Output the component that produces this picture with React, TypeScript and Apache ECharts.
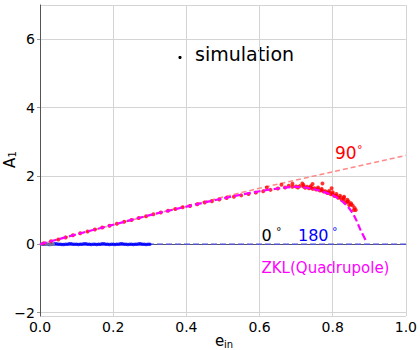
import React, { useEffect, useRef } from "react";
import * as echarts from "echarts";

const FONT = "DejaVu Sans";

// ZKL (quadrupole) prediction: [e_in, A1]
const zklCurve: number[][] = [
  [0, 0], [0.1, 0.29], [0.2, 0.57], [0.3, 0.85], [0.4, 1.1], [0.5, 1.34],
  [0.6, 1.55], [0.65, 1.63], [0.7, 1.68], [0.75, 1.61], [0.8, 1.43],
  [0.83, 1.22], [0.85, 0.98], [0.863, 0.74], [0.876, 0.42], [0.89, 0.12],
];

// 90° reference curve
const curve90: number[][] = [
  [0, 0], [0.2, 0.57], [0.4, 1.12], [0.6, 1.64], [0.8, 2.12], [1.0, 2.6],
];

// 0° / 180° reference line
const zeroLine: number[][] = [[0, 0], [1, 0]];

// simulation points, 90°
const sim90: number[][] = [
  [0.01, 0.03], [0.03, 0.09], [0.05, 0.14], [0.07, 0.2], [0.09, 0.26], [0.11, 0.32],
  [0.13, 0.37], [0.15, 0.43], [0.17, 0.49], [0.19, 0.54], [0.21, 0.6], [0.23, 0.66],
  [0.25, 0.71], [0.27, 0.77], [0.29, 0.82], [0.31, 0.88], [0.33, 0.93], [0.35, 0.98],
  [0.37, 1.03], [0.39, 1.08], [0.41, 1.12], [0.43, 1.17], [0.45, 1.22], [0.47, 1.26],
  [0.49, 1.31], [0.51, 1.35], [0.53, 1.39], [0.55, 1.43], [0.57, 1.47], [0.59, 1.51],
  [0.61, 1.55], [0.63, 1.59], [0.65, 1.63], [0.67, 1.66], [0.69, 1.68], [0.7, 1.69],
  [0.71, 1.7], [0.72, 1.69], [0.73, 1.68], [0.74, 1.66], [0.75, 1.64], [0.76, 1.61],
  [0.77, 1.58], [0.78, 1.55], [0.79, 1.51], [0.8, 1.47], [0.81, 1.42], [0.82, 1.37],
  [0.83, 1.31], [0.84, 1.24], [0.85, 1.16], [0.86, 1.06], [0.863, 1.0],
  [0.72, 1.73], [0.76, 1.66], [0.79, 1.56], [0.8, 1.52], [0.82, 1.42], [0.83, 1.36],
  [0.84, 1.3], [0.85, 1.2], [0.77, 1.62], [0.81, 1.47], [0.74, 1.7], [0.68, 1.71],
  [0.705, 1.66], [0.725, 1.65], [0.745, 1.62], [0.765, 1.57], [0.785, 1.5],
  [0.805, 1.41], [0.825, 1.3], [0.845, 1.15], [0.858, 1.0], [0.835, 1.22],
  [0.815, 1.36], [0.795, 1.46], [0.775, 1.54], [0.755, 1.6], [0.735, 1.64],
  [0.62, 1.66], [0.66, 1.74], [0.69, 1.77], [0.717, 1.78], [0.745, 1.76],
  [0.772, 1.78], [0.797, 1.64], [0.831, 1.39], [0.843, 1.25], [0.855, 1.13],
];

// simulation points, 180°
const sim180: number[][] = [
  [0.005, 0.0], [0.01, 0.0], [0.015, 0.01], [0.02, 0.0], [0.025, -0.01], [0.03, 0.0],
  [0.035, 0.0], [0.04, 0.01], [0.045, 0.01], [0.05, 0.0], [0.055, 0.0], [0.06, -0.01],
  [0.065, -0.01], [0.07, 0.0], [0.075, 0.0], [0.08, 0.01], [0.085, 0.01], [0.09, 0.0],
  [0.095, 0.0], [0.1, 0.0], [0.105, -0.01], [0.11, 0.0], [0.115, 0.0], [0.12, 0.01],
  [0.125, 0.01], [0.13, 0.0], [0.135, 0.0], [0.14, -0.01], [0.145, 0.0], [0.15, 0.0],
  [0.155, -0.01], [0.16, 0.0], [0.165, 0.0], [0.17, 0.01], [0.175, 0.01], [0.18, 0.0],
  [0.185, 0.0], [0.19, -0.01], [0.195, 0.0], [0.2, 0.0], [0.205, -0.01], [0.21, 0.0],
  [0.215, 0.0], [0.22, 0.01], [0.225, 0.01], [0.23, 0.0], [0.235, 0.0], [0.24, -0.01],
  [0.245, 0.0], [0.25, 0.0], [0.255, -0.01], [0.26, 0.0], [0.265, 0.0], [0.27, 0.01],
  [0.275, 0.01], [0.28, 0.0], [0.285, 0.0], [0.29, -0.01], [0.295, 0.0], [0.3, 0.0],
];

// simulation points, 0°
const sim0: number[][] = [
  [0.004, 0.0], [0.012, 0.01], [0.02, 0.0], [0.028, -0.01], [0.036, 0.0],
];

const xTicks = [0, 0.2, 0.4, 0.6, 0.8, 1.0];

const fmtY = (v: number) => (v < 0 ? "\u2212" + Math.abs(v) : String(v));

export default function App() {
  const ref = useRef<HTMLDivElement>(null);

  useEffect(() => {
    if (!ref.current) return;
    document.body.style.margin = "0";
    const chart = echarts.init(ref.current, null, { renderer: "svg" });
    const txt = (
      x: number,
      y: number,
      text: string,
      size: number,
      fill: string,
      extra: any = {}
    ) => ({
      type: "text",
      x,
      y,
      silent: true,
      style: {
        text,
        fill,
        font: `${size}px "${FONT}"`,
        align: "left",
        verticalAlign: "middle",
        ...extra,
      },
    });

    chart.setOption({
      animation: false,
      backgroundColor: "#ffffff",
      grid: { left: 40, right: 13, top: 5, bottom: 34, containLabel: false },
      xAxis: [
        {
          type: "value",
          min: 0,
          max: 1,
          interval: 0.2,
          axisLine: { show: true, lineStyle: { color: "#e2e2e2", width: 1 } },
          axisTick: { show: false },
          splitLine: { show: true, lineStyle: { color: "#d4d4d4", width: 1 } },
          axisLabel: {
            margin: 4,
            color: "#000",
            fontFamily: FONT,
            fontSize: 14,
            formatter: (v: number) => (xTicks.includes(Math.round(v * 10) / 10) ? v.toFixed(1) : ""),
          },
        },
        {
          type: "value",
          position: "top",
          min: 0,
          max: 1,
          axisLine: { show: true, lineStyle: { color: "#555", width: 1 } },
          axisTick: { show: false },
          axisLabel: { show: false },
          splitLine: { show: false },
        },
      ],
      yAxis: [
        {
          type: "value",
          min: -2.1,
          max: 7,
          splitNumber: 5,
          axisLine: { show: true, lineStyle: { color: "#e2e2e2", width: 1 } },
          axisTick: { show: true, length: 3, lineStyle: { color: "#999" } },
          splitLine: { show: true, lineStyle: { color: "#d4d4d4", width: 1 } },
          axisLabel: {
            margin: 5,
            color: "#000",
            fontFamily: FONT,
            fontSize: 14,
            showMinLabel: false,
            showMaxLabel: false,
            formatter: fmtY,
          },
        },
        {
          type: "value",
          position: "right",
          min: -2.1,
          max: 7,
          axisLine: { show: true, lineStyle: { color: "#555", width: 1 } },
          axisTick: { show: false },
          axisLabel: { show: false },
          splitLine: { show: false },
        },
      ],
      series: [
        {
          type: "line",
          data: curve90,
          showSymbol: false,
          lineStyle: { color: "#ff8888", width: 1.5, type: [5, 3] },
          z: 2,
        },
        {
          type: "line",
          data: zeroLine,
          showSymbol: false,
          lineStyle: { color: "#5252cf", width: 1.5, type: [6, 3] },
          z: 2,
        },
        {
          type: "scatter",
          data: sim180,
          symbolSize: 3.5,
          itemStyle: { color: "#0000ff" },
          z: 3,
        },
        {
          type: "scatter",
          data: sim0,
          symbolSize: 3.5,
          itemStyle: { color: "#888888" },
          z: 3,
        },
        {
          type: "scatter",
          data: sim90,
          symbolSize: 4,
          itemStyle: { color: "#ff0000" },
          z: 3,
        },
        {
          type: "line",
          data: zklCurve,
          showSymbol: false,
          smooth: 0.3,
          lineStyle: { color: "#ff00ff", width: 2.2, type: [7, 3] },
          z: 4,
        },
      ],
      graphic: [
        { type: "circle", shape: { cx: 180, cy: 57.5, r: 1.6 }, style: { fill: "#000" }, silent: true },
        txt(195, 54.1, "simulation", 19, "#000"),
        txt(335, 153.3, "90", 17, "#ff0000"),
        txt(357, 149, "°", 11, "#ff0000"),
        txt(261.5, 235, "0", 16, "#000"),
        txt(276, 231, "°", 11, "#000"),
        txt(298, 235, "180", 16, "#0000ff"),
        txt(332, 231, "°", 11, "#0000ff"),
        txt(261.5, 267.5, "ZKL(Quadrupole)", 15, "#ff00ff"),
        txt(215, 340.5, "e", 15, "#000"),
        txt(224, 344.5, "in", 10, "#000"),
        {
          type: "group",
          x: 9.5,
          y: 168,
          rotation: Math.PI / 2,
          children: [
            txt(0, 0, "A", 15, "#000"),
            txt(10.5, 3, "1", 10, "#000"),
          ],
        },
      ],
    });
    return () => chart.dispose();
  }, []);

  return <div ref={ref} style={{ width: 420, height: 350 }} />;
}
